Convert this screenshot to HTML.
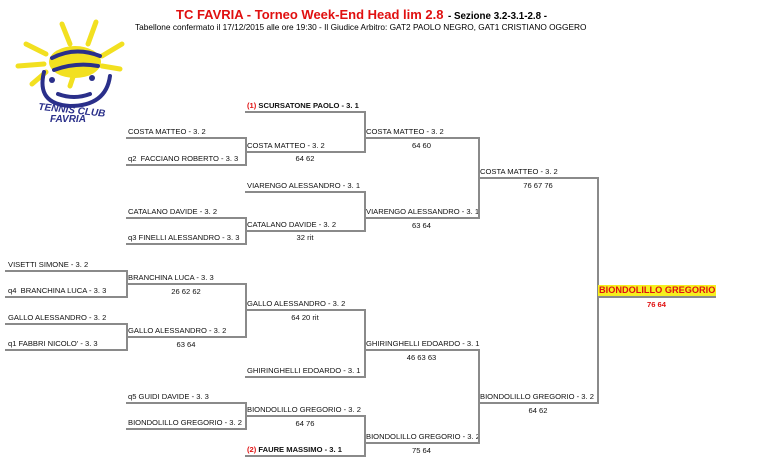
<!DOCTYPE html>
<html><head><meta charset="utf-8"><style>
body{margin:0;width:768px;height:462px;background:#fff;position:relative;overflow:hidden;font-family:"Liberation Sans",Arial,sans-serif;}
.h{position:absolute;height:2px;background:#8a8a8a;}
.v{position:absolute;width:2px;background:#8a8a8a;}
.t{position:absolute;font-size:7.6px;color:#111;white-space:nowrap;line-height:9px;}
.s{position:absolute;font-size:7.6px;color:#111;text-align:center;white-space:nowrap;line-height:9px;}
.b{font-weight:bold;}
.r{color:#e01010;}
</style></head><body>
<svg style="position:absolute;left:10px;top:14px" width="120" height="112" viewBox="0 0 120 112">
<g stroke="#f2e020" stroke-width="5" stroke-linecap="round" fill="none">
<path d="M52 10 L60 30"/><path d="M86 8 L78 30"/><path d="M112 30 L92 42"/><path d="M110 55 L92 52"/>
<path d="M16 30 L36 40"/><path d="M8 52 L34 50"/><path d="M22 70 L36 58"/><path d="M64 60 L60 72"/>
<ellipse cx="65" cy="48" rx="26" ry="16" fill="#f2e020" stroke="none"/>
</g>
<g stroke="#2a2f8a" stroke-width="4" fill="none" stroke-linecap="round">
<path d="M42 44 Q65 32 90 42"/><path d="M44 56 Q66 48 88 52"/>
<path d="M34 58 Q26 90 60 92 Q96 92 100 62"/>
<path d="M48 80 Q64 86 80 80"/>
</g>
<circle cx="42" cy="66" r="3" fill="#2a2f8a"/><circle cx="82" cy="64" r="3" fill="#2a2f8a"/>
<text x="28" y="98" font-size="10" font-weight="bold" fill="#2a2f8a" font-style="italic" font-family="Liberation Sans" transform="rotate(6 50 98)">TENNIS CLUB</text>
<text x="40" y="108" font-size="10" font-weight="bold" fill="#2a2f8a" font-style="italic" font-family="Liberation Sans">FAVRIA</text>
</svg>
<div style="position:absolute;left:176px;top:6px;white-space:nowrap;font-weight:bold;"><span style="color:#e01010;font-size:13px">TC FAVRIA - Torneo Week-End Head lim 2.8</span> <span style="font-size:9.8px">- Sezione 3.2-3.1-2.8 -</span></div>
<div style="position:absolute;left:135px;top:22px;font-size:8.3px;white-space:nowrap;">Tabellone confermato il 17/12/2015 alle ore 19:30 - Il Giudice Arbitro: GAT2 PAOLO NEGRO, GAT1 CRISTIANO OGGERO</div>

<!-- col0 -->
<div class="h" style="left:5px;width:122px;top:270px"></div><div class="t" style="left:8px;top:260px">VISETTI SIMONE - 3. 2</div>
<div class="h" style="left:5px;width:122px;top:296px"></div><div class="t" style="left:8px;top:286px">q4&nbsp; BRANCHINA LUCA - 3. 3</div>
<div class="h" style="left:5px;width:122px;top:323px"></div><div class="t" style="left:8px;top:313px">GALLO ALESSANDRO - 3. 2</div>
<div class="h" style="left:5px;width:122px;top:349px"></div><div class="t" style="left:8px;top:339px">q1 FABBRI NICOLO' - 3. 3</div>
<div class="v" style="left:126px;top:270px;height:28px"></div>
<div class="v" style="left:126px;top:323px;height:28px"></div>

<!-- col1 -->
<div class="h" style="left:126px;width:120px;top:137px"></div><div class="t" style="left:128px;top:127px">COSTA MATTEO - 3. 2</div>
<div class="h" style="left:126px;width:120px;top:164px"></div><div class="t" style="left:128px;top:154px">q2&nbsp; FACCIANO ROBERTO - 3. 3</div>
<div class="h" style="left:126px;width:120px;top:217px"></div><div class="t" style="left:128px;top:207px">CATALANO DAVIDE - 3. 2</div>
<div class="h" style="left:126px;width:120px;top:243px"></div><div class="t" style="left:128px;top:233px">q3 FINELLI ALESSANDRO - 3. 3</div>
<div class="h" style="left:126px;width:120px;top:283px"></div><div class="t" style="left:128px;top:273px">BRANCHINA LUCA - 3. 3</div><div class="s" style="left:126px;width:120px;top:287px">26 62 62</div>
<div class="h" style="left:126px;width:120px;top:336px"></div><div class="t" style="left:128px;top:326px">GALLO ALESSANDRO - 3. 2</div><div class="s" style="left:126px;width:120px;top:340px">63 64</div>
<div class="h" style="left:126px;width:120px;top:402px"></div><div class="t" style="left:128px;top:392px">q5 GUIDI DAVIDE - 3. 3</div>
<div class="h" style="left:126px;width:120px;top:428px"></div><div class="t" style="left:128px;top:418px">BIONDOLILLO GREGORIO - 3. 2</div>
<div class="v" style="left:245px;top:137px;height:29px"></div>
<div class="v" style="left:245px;top:217px;height:28px"></div>
<div class="v" style="left:245px;top:283px;height:55px"></div>
<div class="v" style="left:245px;top:402px;height:28px"></div>

<!-- col2 -->
<div class="h" style="left:245px;width:120px;top:111px"></div><div class="t b" style="left:247px;top:101px"><span class="r">(1)</span> SCURSATONE PAOLO - 3. 1</div>
<div class="h" style="left:245px;width:120px;top:151px"></div><div class="t" style="left:247px;top:141px">COSTA MATTEO - 3. 2</div><div class="s" style="left:245px;width:120px;top:154px">64 62</div>
<div class="h" style="left:245px;width:120px;top:191px"></div><div class="t" style="left:247px;top:181px">VIARENGO ALESSANDRO - 3. 1</div>
<div class="h" style="left:245px;width:120px;top:230px"></div><div class="t" style="left:247px;top:220px">CATALANO DAVIDE - 3. 2</div><div class="s" style="left:245px;width:120px;top:233px">32 rit</div>
<div class="h" style="left:245px;width:120px;top:309px"></div><div class="t" style="left:247px;top:299px">GALLO ALESSANDRO - 3. 2</div><div class="s" style="left:245px;width:120px;top:313px">64 20 rit</div>
<div class="h" style="left:245px;width:120px;top:376px"></div><div class="t" style="left:247px;top:366px">GHIRINGHELLI EDOARDO - 3. 1</div>
<div class="h" style="left:245px;width:120px;top:415px"></div><div class="t" style="left:247px;top:405px">BIONDOLILLO GREGORIO - 3. 2</div><div class="s" style="left:245px;width:120px;top:419px">64 76</div>
<div class="h" style="left:245px;width:120px;top:455px"></div><div class="t b" style="left:247px;top:445px"><span class="r">(2)</span> FAURE MASSIMO - 3. 1</div>
<div class="v" style="left:364px;top:111px;height:42px"></div>
<div class="v" style="left:364px;top:191px;height:41px"></div>
<div class="v" style="left:364px;top:309px;height:69px"></div>
<div class="v" style="left:364px;top:415px;height:42px"></div>

<!-- col3 -->
<div class="h" style="left:364px;width:115px;top:137px"></div><div class="t" style="left:366px;top:127px">COSTA MATTEO - 3. 2</div><div class="s" style="left:364px;width:115px;top:141px">64 60</div>
<div class="h" style="left:364px;width:115px;top:217px"></div><div class="t" style="left:366px;top:207px">VIARENGO ALESSANDRO - 3. 1</div><div class="s" style="left:364px;width:115px;top:221px">63 64</div>
<div class="h" style="left:364px;width:115px;top:349px"></div><div class="t" style="left:366px;top:339px">GHIRINGHELLI EDOARDO - 3. 1</div><div class="s" style="left:364px;width:115px;top:353px">46 63 63</div>
<div class="h" style="left:364px;width:115px;top:442px"></div><div class="t" style="left:366px;top:432px">BIONDOLILLO GREGORIO - 3. 2</div><div class="s" style="left:364px;width:115px;top:446px">75 64</div>
<div class="v" style="left:478px;top:137px;height:82px"></div>
<div class="v" style="left:478px;top:349px;height:95px"></div>

<!-- col4 -->
<div class="h" style="left:478px;width:120px;top:177px"></div><div class="t" style="left:480px;top:167px">COSTA MATTEO - 3. 2</div><div class="s" style="left:478px;width:120px;top:181px">76 67 76</div>
<div class="h" style="left:478px;width:120px;top:402px"></div><div class="t" style="left:480px;top:392px">BIONDOLILLO GREGORIO - 3. 2</div><div class="s" style="left:478px;width:120px;top:406px">64 62</div>
<div class="v" style="left:597px;top:177px;height:227px"></div>

<!-- final -->
<div class="h" style="left:597px;width:119px;top:296px"></div>
<div style="position:absolute;left:598px;top:285px;background:#f5ef1e;color:#e01010;font-weight:bold;font-size:9.2px;line-height:11px;padding:0 1px;white-space:nowrap;">BIONDOLILLO GREGORIO</div>
<div class="s b r" style="left:597px;width:119px;top:300px">76 64</div>
</body></html>
